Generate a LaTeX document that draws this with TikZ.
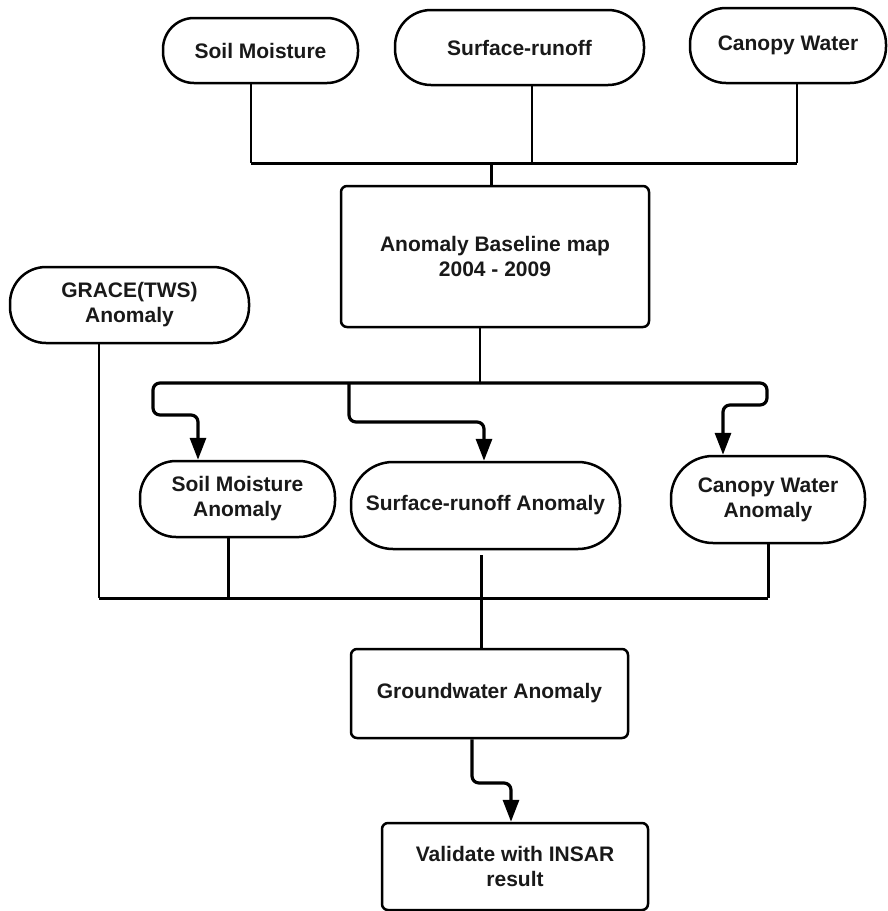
\documentclass[tikz,border=0pt]{standalone}
\usepackage{fontspec}
\setmainfont{Liberation Sans}
\usetikzlibrary{arrows.meta}
\begin{document}
\begin{tikzpicture}[x=1pt,y=-1pt,
  every node/.style={font=\fontsize{21}{25}\selectfont\bfseries, align=center, inner sep=0pt, text=black!90},
  pill/.style={draw, line width=2.5pt, rounded corners=#1},
  pill/.default=30pt,
  boxr/.style={draw, line width=2.5pt, rounded corners=6pt},
  ln/.style={line width=2pt},
  lnb/.style={line width=3pt},
  arr/.style={line width=3.2pt, rounded corners=7pt, -{Triangle[length=22pt,width=16pt]}}]
\useasboundingbox (0,0) rectangle (888,911);

% nodes
\node[pill=31pt, minimum width=195pt, minimum height=65pt] (soil) at (260.5,50.5) {Soil Moisture};
\node[pill=36pt, minimum width=249pt, minimum height=75pt] (surf) at (519.5,47.5) {Surface-runoff};
\node[pill=36pt, minimum width=196pt, minimum height=75pt] (canopy) at (788,45.5) {Canopy Water};
\node[boxr, minimum width=308pt, minimum height=141pt] (base) at (495,256.5) {Anomaly Baseline map\\2004 - 2009};
\node[pill=36pt, minimum width=239pt, minimum height=76pt] (grace) at (129.5,305) {GRACE(TWS)\\Anomaly};
\node[pill=36pt, minimum width=195pt, minimum height=76pt] (sma) at (237.5,499) {Soil Moisture\\Anomaly};
\node[pill=42pt, minimum width=269pt, minimum height=87pt] (sra) at (485.5,505.5) {Surface-runoff Anomaly};
\node[pill=42pt, minimum width=194pt, minimum height=87pt] (cwa) at (768,499.5) {Canopy Water\\Anomaly};
\node[boxr, minimum width=277pt, minimum height=89pt] (gw) at (489.5,693.5) {Groundwater Anomaly};
\node[boxr, minimum width=266pt, minimum height=87pt] (val) at (515,866.5) {Validate with INSAR\\result};

% top merge
\coordinate (j1) at (251,163);
\coordinate (j2) at (532,163);
\coordinate (j3) at (797,163);
\coordinate (j0) at (491,163);
\draw[ln] (soil.south -| j1) -- (j1);
\draw[ln] (surf.south -| j2) -- (j2);
\draw[ln] (canopy.south -| j3) -- (j3);
\draw[lnb] (j1) -- (j3);
\draw[lnb] (j0) -- (base.north -| j0);

% distribution
\coordinate (k0) at (480,383);
\coordinate (dL) at (153,383);
\coordinate (dL2) at (153,415);
\coordinate (dL3) at (198,415);
\coordinate (dM) at (349,383);
\coordinate (dM2) at (349,422);
\coordinate (dM3) at (484,422);
\coordinate (dR) at (767,383);
\coordinate (dR2) at (767,405);
\coordinate (dR3) at (723,405);
\draw[ln] (base.south -| k0) -- (k0);
\draw[arr] (k0) -- (dL) -- (dL2) -- (dL3) -- (sma.north -| dL3);
\draw[arr] (dM) -- (dM2) -- (dM3) -- (sra.north -| dM3);
\draw[arr] (k0) -- (dR) -- (dR2) -- (dR3) -- (cwa.north -| dR3);

% bottom merge
\coordinate (m0) at (99,598);
\coordinate (m1) at (228,598);
\coordinate (m3) at (768,598);
\coordinate (sg) at (481,555);
\draw[ln] (grace.south -| m0) -- (m0);
\draw[lnb] (sma.south -| m1) -- (m1);
\draw[lnb] (cwa.south -| m3) -- (m3);
\draw[lnb] (m0) -- (m3);
\draw[lnb] (sg) -- (gw.north -| sg);

% final arrow
\coordinate (g1) at (472,783);
\coordinate (g2) at (511,783);
\draw[arr] (gw.south -| g1) -- (g1) -- (g2) -- (val.north -| g2);
\end{tikzpicture}
\end{document}
